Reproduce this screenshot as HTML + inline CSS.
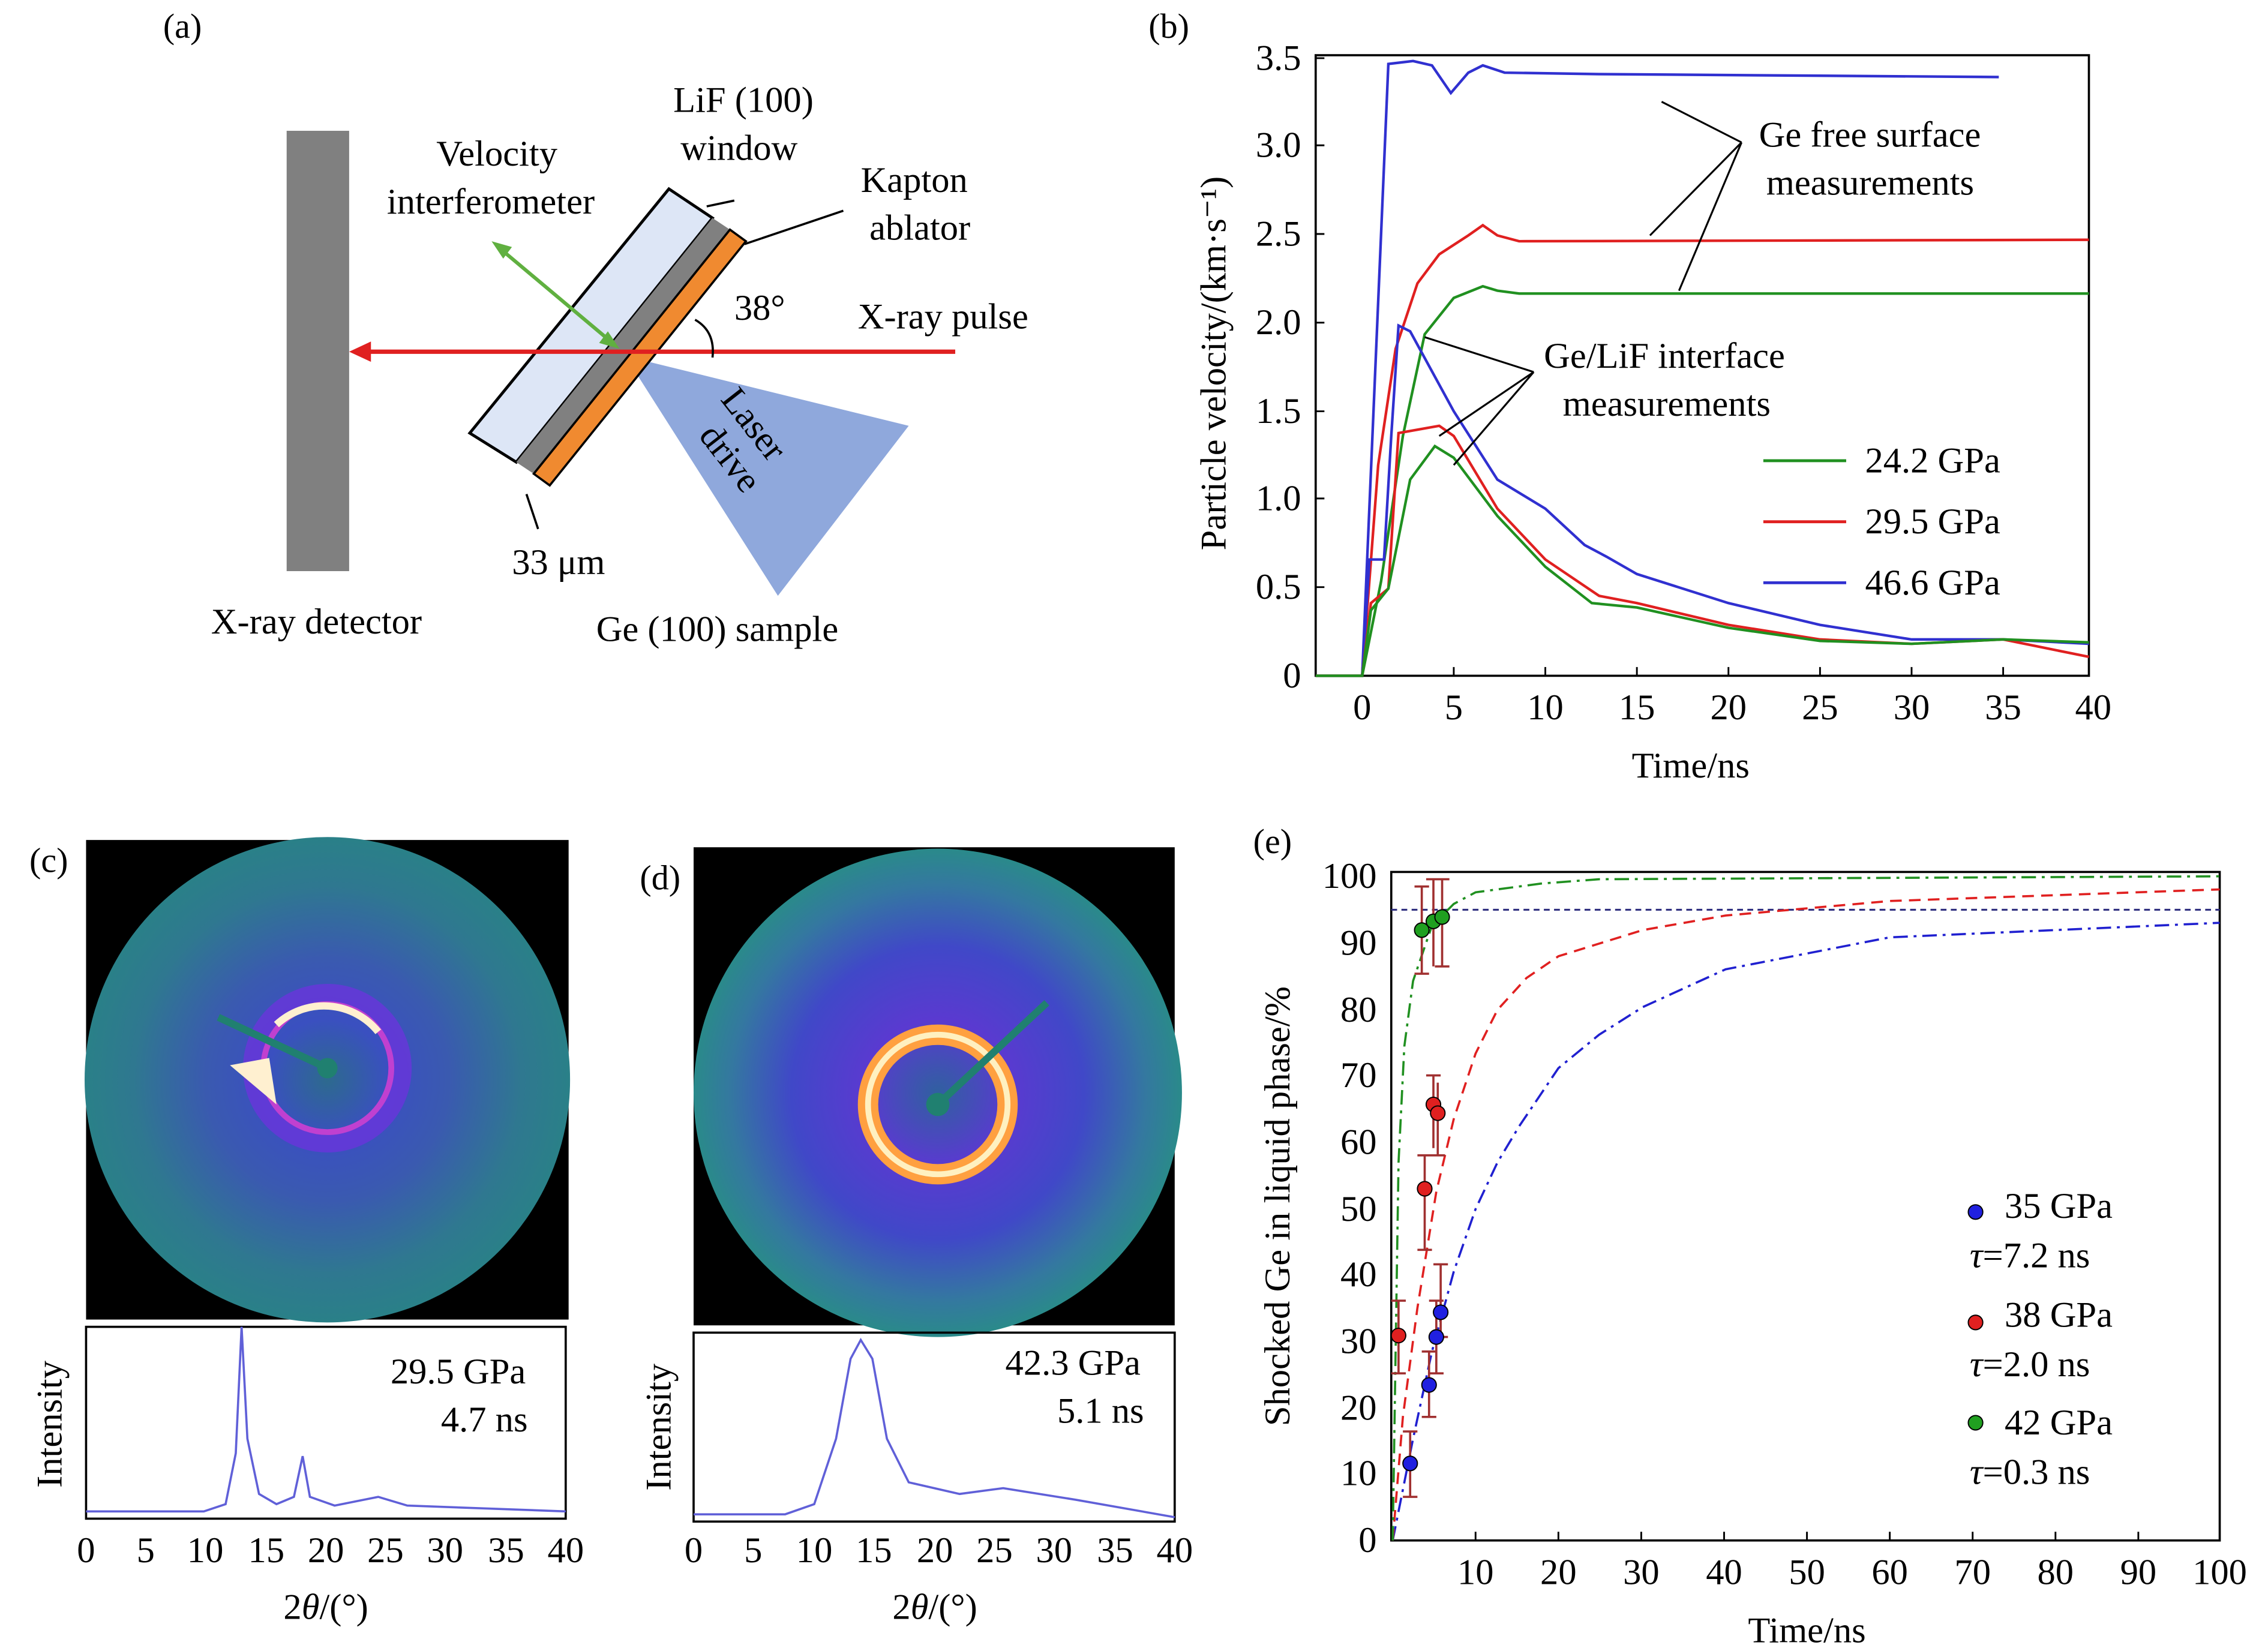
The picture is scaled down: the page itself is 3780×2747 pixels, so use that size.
<!DOCTYPE html>
<html><head><meta charset="utf-8"><style>html,body{margin:0;padding:0;background:#fff}svg{display:block}</style></head><body>
<svg xmlns="http://www.w3.org/2000/svg" width="3780" height="2747" viewBox="0 0 1560 1134" font-family="Liberation Serif, serif" fill="none">
<defs>
<radialGradient id="gc" cx="0.5" cy="0.5" r="0.5">
<stop offset="0" stop-color="#2d6a8e"/><stop offset="0.25" stop-color="#3a50c0"/><stop offset="0.5" stop-color="#3a5ab0"/><stop offset="0.8" stop-color="#2f7890"/><stop offset="1" stop-color="#2a8088"/></radialGradient>
<radialGradient id="gd" cx="0.5" cy="0.5" r="0.5">
<stop offset="0" stop-color="#3060a0"/><stop offset="0.3" stop-color="#5a3ad0"/><stop offset="0.6" stop-color="#4048c8"/><stop offset="0.85" stop-color="#3478a0"/><stop offset="1" stop-color="#2a8a8a"/></radialGradient>
</defs>
<g fill="#000" font-size="24">
<text x="112" y="26">(a)</text><text x="790" y="26">(b)</text>
<text x="20" y="600">(c)</text><text x="440" y="612">(d)</text><text x="862" y="587">(e)</text>
</g>
<!-- panel a -->
<rect x="197" y="90" width="43" height="303" fill="#808080"/>
<polygon points="430,245 625,293 535,410" fill="#8fa8dc"/>
<polygon points="323,298 460,130 490,150 355,318" fill="#dde6f6" stroke="#000" stroke-width="2"/>
<polygon points="355,318 490,150 502,158 367,326" fill="#808080"/>
<polygon points="367,326 502,158 513,166 378,334" fill="#f08a30" stroke="#000" stroke-width="1.5"/>
<line x1="657" y1="242" x2="250" y2="242" stroke="#e02020" stroke-width="3"/>
<polygon points="240,242 255,235 255,249" fill="#e02020"/>
<line x1="345" y1="172" x2="420" y2="235" stroke="#60b040" stroke-width="2.5"/>
<polygon points="338,166 352,170 346,178" fill="#60b040"/><polygon points="426,240 412,236 418,228" fill="#60b040"/>
<path d="M478,220 Q492,228 490,246" stroke="#000" stroke-width="1.5"/>
<line x1="505" y1="138" x2="486" y2="142" stroke="#000" stroke-width="1.5"/>
<line x1="580" y1="145" x2="512" y2="168" stroke="#000" stroke-width="1.5"/>
<line x1="370" y1="364" x2="362" y2="340" stroke="#000" stroke-width="1.5"/>
<g fill="#000" font-size="25">
<text x="463" y="77">LiF (100)</text><text x="468" y="110">window</text>
<text x="300" y="114">Velocity</text><text x="266" y="147">interferometer</text>
<text x="592" y="132">Kapton</text><text x="598" y="165">ablator</text>
<text x="505" y="220">38°</text><text x="590" y="226">X-ray pulse</text>
<text x="352" y="395">33 μm</text><text x="145" y="436">X-ray detector</text><text x="410" y="441">Ge (100) sample</text>
<text transform="translate(495,275) rotate(52)">Laser</text><text transform="translate(480,300) rotate(52)">drive</text>
</g>
<!-- panel b -->
<rect x="905" y="38" width="532" height="427" stroke="#000" stroke-width="1.5"/>
<g stroke="#000" stroke-width="1.2">
<path d="M937,465v-6M1000,465v-6M1063,465v-6M1126,465v-6M1189,465v-6M1252,465v-6M1315,465v-6M1378,465v-6M1437,465v-6"/>
<path d="M905,404h6M905,343h6M905,283h6M905,222h6M905,161h6M905,100h6M905,40h6"/>
</g>
<g fill="#000" font-size="25" text-anchor="middle">
<text x="937" y="495">0</text><text x="1000" y="495">5</text><text x="1063" y="495">10</text><text x="1126" y="495">15</text><text x="1189" y="495">20</text><text x="1252" y="495">25</text><text x="1315" y="495">30</text><text x="1378" y="495">35</text><text x="1440" y="495">40</text>
<text x="1163" y="535">Time/ns</text>
</g>
<g fill="#000" font-size="25" text-anchor="end">
<text x="895" y="473">0</text><text x="895" y="412">0.5</text><text x="895" y="351">1.0</text><text x="895" y="291">1.5</text><text x="895" y="230">2.0</text><text x="895" y="169">2.5</text><text x="895" y="108">3.0</text><text x="895" y="48">3.5</text>
</g>
<text transform="translate(843,250) rotate(-90)" fill="#000" font-size="25" text-anchor="middle">Particle velocity/(km·s⁻¹)</text>
<g stroke-width="1.8">
<path stroke="#3030d0" d="M905,465H937L955,44L972,42L985,45L998,64L1010,50L1020,45L1035,50L1100,51L1375,53"/>
<path stroke="#e02020" d="M905,465H937L948,320L960,240L975,195L990,175L1010,162L1020,155L1030,162L1045,166L1437,165"/>
<path stroke="#209020" d="M905,465H937L950,400L965,300L980,230L1000,205L1020,197L1030,200L1045,202L1437,202"/>
<path stroke="#3030d0" d="M937,465L942,385L952,385L957,300L962,224L970,228L1000,283L1030,330L1063,350L1090,375L1105,383L1126,395L1189,415L1252,430L1315,440L1378,440L1437,443"/>
<path stroke="#e02020" d="M937,465L943,415L955,405L962,298L990,293L1000,300L1030,350L1063,385L1100,410L1126,415L1189,430L1252,440L1315,443L1378,440L1437,452"/>
<path stroke="#209020" d="M937,465L943,420L955,405L970,330L987,307L1000,315L1030,355L1063,390L1095,415L1126,418L1189,432L1252,441L1315,443L1378,440L1437,442"/>
</g>
<g stroke="#000" stroke-width="1.3">
<path d="M1143,70L1198,98M1135,162L1198,98M1155,200L1198,98"/>
<path d="M980,232L1055,256M990,300L1055,256M1000,320L1055,256"/>
</g>
<g fill="#000" font-size="25">
<text x="1210" y="101">Ge free surface</text><text x="1215" y="134">measurements</text>
<text x="1062" y="253">Ge/LiF interface</text><text x="1075" y="286">measurements</text>
<text x="1283" y="325">24.2 GPa</text><text x="1283" y="367">29.5 GPa</text><text x="1283" y="409">46.6 GPa</text>
</g>
<path d="M1213,317h57" stroke="#209020" stroke-width="2"/><path d="M1213,359h57" stroke="#e02020" stroke-width="2"/><path d="M1213,401h57" stroke="#3030d0" stroke-width="2"/>
<!-- panel c -->
<rect x="59" y="578" width="332" height="330" fill="#000"/>
<circle cx="225" cy="743" r="167" fill="url(#gc)"/>
<circle cx="225" cy="735" r="52" stroke="#7030e0" stroke-width="12" opacity="0.7"/>
<circle cx="225" cy="735" r="44" stroke="#c040d0" stroke-width="4"/>
<path d="M190,705 A48,48 0 0 1 260,710" stroke="#fff0d0" stroke-width="5"/>
<path d="M158,733 L185,728 L190,760Z" fill="#fff0d0"/>
<path d="M225,735 L150,700" stroke="#208070" stroke-width="5"/><circle cx="225" cy="735" r="7" fill="#208070"/>
<rect x="59" y="913" width="330" height="132" stroke="#000" stroke-width="1.5"/>
<path stroke="#6060d8" stroke-width="1.5" d="M59,1040L140,1040L155,1035L162,1000L166,913L170,990L178,1028L190,1035L202,1030L208,1002L213,1030L230,1036L260,1030L280,1036L389,1040"/>
<g fill="#000" font-size="25" text-anchor="middle">
<text x="59" y="1075">0</text><text x="100" y="1075">5</text><text x="141" y="1075">10</text><text x="183" y="1075">15</text><text x="224" y="1075">20</text><text x="265" y="1075">25</text><text x="306" y="1075">30</text><text x="348" y="1075">35</text><text x="389" y="1075">40</text>
<text x="224" y="1114">2<tspan font-style="italic">θ</tspan>/(°)</text>
<text x="315" y="952">29.5 GPa</text><text x="333" y="985">4.7 ns</text>
<text transform="translate(42,980) rotate(-90)">Intensity</text>
</g>
<!-- panel d -->
<rect x="477" y="583" width="331" height="329" fill="#000"/>
<circle cx="645" cy="752" r="168" fill="url(#gd)"/>
<circle cx="645" cy="760" r="48" stroke="#ffa040" stroke-width="14"/>
<circle cx="645" cy="760" r="48" stroke="#fff0c0" stroke-width="4"/>
<path d="M645,760 L720,690" stroke="#208070" stroke-width="5"/><circle cx="645" cy="760" r="8" fill="#208070"/>
<rect x="477" y="917" width="331" height="130" stroke="#000" stroke-width="1.5"/>
<path stroke="#6060d8" stroke-width="1.5" d="M477,1042L540,1042L560,1035L575,990L585,935L592,922L600,935L610,990L625,1020L660,1028L690,1024L740,1032L808,1044"/>
<g fill="#000" font-size="25" text-anchor="middle">
<text x="477" y="1075">0</text><text x="518" y="1075">5</text><text x="560" y="1075">10</text><text x="601" y="1075">15</text><text x="643" y="1075">20</text><text x="684" y="1075">25</text><text x="725" y="1075">30</text><text x="767" y="1075">35</text><text x="808" y="1075">40</text>
<text x="643" y="1114">2<tspan font-style="italic">θ</tspan>/(°)</text>
<text x="738" y="946">42.3 GPa</text><text x="757" y="979">5.1 ns</text>
<text transform="translate(461,982) rotate(-90)">Intensity</text>
</g>
<!-- panel e -->
<rect x="957" y="600" width="570" height="460" stroke="#000" stroke-width="1.5"/>
<g stroke="#000" stroke-width="1.2">
<path d="M1015,1060v-6M1072,1060v-6M1129,1060v-6M1186,1060v-6M1243,1060v-6M1300,1060v-6M1357,1060v-6M1414,1060v-6M1471,1060v-6"/>
</g>
<g fill="#000" font-size="25" text-anchor="middle">
<text x="1015" y="1090">10</text><text x="1072" y="1090">20</text><text x="1129" y="1090">30</text><text x="1186" y="1090">40</text><text x="1243" y="1090">50</text><text x="1300" y="1090">60</text><text x="1357" y="1090">70</text><text x="1414" y="1090">80</text><text x="1471" y="1090">90</text><text x="1527" y="1090">100</text>
<text x="1243" y="1130">Time/ns</text>
</g>
<g fill="#000" font-size="25" text-anchor="end">
<text x="947" y="1068">0</text><text x="947" y="1022">10</text><text x="947" y="977">20</text><text x="947" y="931">30</text><text x="947" y="885">40</text><text x="947" y="840">50</text><text x="947" y="794">60</text><text x="947" y="748">70</text><text x="947" y="703">80</text><text x="947" y="657">90</text><text x="947" y="611">100</text>
</g>
<text transform="translate(887,830) rotate(-90)" fill="#000" font-size="25" text-anchor="middle">Shocked Ge in liquid phase/%</text>
<path d="M957,626H1527" stroke="#303080" stroke-width="1.3" stroke-dasharray="4,3"/>
<path d="M958,1060L972,990L985,930L1000,875L1015,832L1030,800L1045,775L1072,735L1100,712L1130,693L1187,667L1300,645L1527,635" stroke="#2020d0" stroke-width="1.5" stroke-dasharray="10,4,2,4"/>
<path d="M958,1060L965,975L975,900L988,820L1000,770L1015,725L1030,695L1050,673L1072,658L1130,640L1187,630L1300,620L1527,612" stroke="#e02020" stroke-width="1.5" stroke-dasharray="8,5"/>
<path d="M958,1060L962,800L966,720L972,675L985,637L1000,622L1015,614L1060,608L1100,605L1527,603" stroke="#209020" stroke-width="1.5" stroke-dasharray="10,4,2,4"/>
<g stroke="#a03030" stroke-width="1.5">
<path d="M970,985v45M983,930v45M988,895v50M991,870v50M962,895v50M980,795v65M986,740v50M989,745v50M978,610v60M986,605v60M992,605v60"/>
<path d="M965,985h10M965,1030h10M978,930h10M978,975h10M983,895h10M983,945h10M986,870h10M986,920h10M957,895h10M957,945h10M975,795h10M975,860h10M981,740h10M984,795h10M973,610h10M973,670h10M981,605h10M987,605h10M987,665h10"/>
</g>
<g stroke="#000" stroke-width="0.8">
<circle cx="970" cy="1007" r="5" fill="#2020e0"/><circle cx="983" cy="953" r="5" fill="#2020e0"/><circle cx="988" cy="920" r="5" fill="#2020e0"/><circle cx="991" cy="903" r="5" fill="#2020e0"/>
<circle cx="962" cy="919" r="5" fill="#e02020"/><circle cx="980" cy="818" r="5" fill="#e02020"/><circle cx="986" cy="760" r="5" fill="#e02020"/><circle cx="989" cy="766" r="5" fill="#e02020"/>
<circle cx="978" cy="640" r="5" fill="#20a020"/><circle cx="986" cy="634" r="5" fill="#20a020"/><circle cx="992" cy="631" r="5" fill="#20a020"/>
<circle cx="1359" cy="834" r="5" fill="#2020e0"/><circle cx="1359" cy="910" r="5" fill="#e02020"/><circle cx="1359" cy="979" r="5" fill="#20a020"/>
</g>
<g fill="#000" font-size="25">
<text x="1379" y="838">35 GPa</text><text x="1355" y="872"><tspan font-style="italic">τ</tspan>=7.2 ns</text>
<text x="1379" y="913">38 GPa</text><text x="1355" y="947"><tspan font-style="italic">τ</tspan>=2.0 ns</text>
<text x="1379" y="987">42 GPa</text><text x="1355" y="1021"><tspan font-style="italic">τ</tspan>=0.3 ns</text>
</g>
</svg>
</body></html>
